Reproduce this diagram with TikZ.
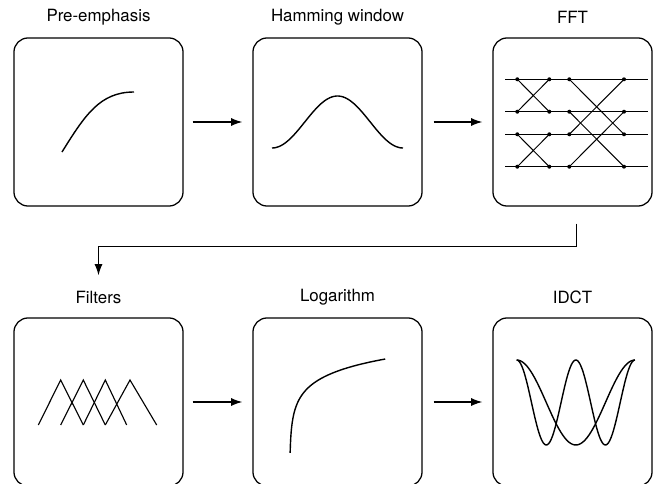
\documentclass[tikz,border=0pt]{standalone}
\usepackage{fontspec}
\setmainfont{TeX Gyre Heros}
\usetikzlibrary{arrows.meta}

\tikzset{
    stagebox/.style={draw, line width=0.9pt, rounded corners=0.35cm,
        minimum width=4.225cm, minimum height=4.2cm, inner sep=0pt},
    stagelabel/.style={font=\fontsize{12}{14}\selectfont, inner sep=0pt},
    flow/.style={line width=0.8pt, -{Latex[length=0.28cm, width=0.2cm]}},
    sketch/.style={line width=1pt, line join=round}
}

\begin{document}
\begin{tikzpicture}[x=0.025cm, y=0.025cm]
    \useasboundingbox (0,0) rectangle (653,483);

    % 1. Các khối xử lý (hàng trên và hàng dưới)
    \node[stagebox] (pre) at (98.5, 361) {};
    \node[stagebox] (ham) at (337.5, 361) {};
    \node[stagebox, minimum width=3.975cm] (fft) at (572.5, 361) {};
    \node[stagebox] (filt) at (98.5, 81) {};
    \node[stagebox] (logn) at (337.5, 81) {};
    \node[stagebox, minimum width=3.975cm] (idct) at (572.5, 81) {};

    % 2. Nhãn phía trên mỗi khối
    \node[stagelabel] (preLbl) at ([yshift=0.5cm]pre.north) {Pre-emphasis};
    \node[stagelabel] (hamLbl) at ([yshift=0.5cm]ham.north) {Hamming window};
    \node[stagelabel] (fftLbl) at ([yshift=0.5cm]fft.north) {FFT};
    \node[stagelabel] (filtLbl) at ([yshift=0.5cm]filt.north) {Filters};
    \node[stagelabel] (lognLbl) at ([yshift=0.5cm]logn.north) {Logarithm};
    \node[stagelabel] (idctLbl) at ([yshift=0.5cm]idct.north) {IDCT};

    % 3. Mũi tên nối các khối
    \draw[flow] ([xshift=0.225cm]pre.east) -- ([xshift=-0.25cm]ham.west);
    \draw[flow] ([xshift=0.275cm]ham.east) -- ([xshift=-0.25cm]fft.west);
    \draw[flow] ([xshift=0.1cm, yshift=-0.425cm]fft.south)
        |- ([yshift=1.775cm]filt.north) -- ([yshift=1.05cm]filt.north);
    \draw[flow] ([xshift=0.225cm]filt.east) -- ([xshift=-0.25cm]logn.west);
    \draw[flow] ([xshift=0.275cm]logn.east) -- ([xshift=-0.25cm]idct.west);

    % 4. Pre-emphasis: đường cong đi lên rồi bão hòa
    \begin{scope}[shift={(pre.center)}]
        \draw[sketch] (-36.5, -30) .. controls (-13.5, 7) and (1.5, 30) .. (35.5, 30);
    \end{scope}

    % 5. Hamming window: dạng chuông
    \begin{scope}[shift={(ham.center)}]
        \draw[sketch, smooth, samples=60, domain=-65.5:65.5]
            plot (\x, {-26 + 26*(1 + cos(180*\x/65.5))});
    \end{scope}

    % 6. FFT: sơ đồ cánh bướm
    \begin{scope}[shift={(fft.center)}, line width=0.7pt]
        \foreach \r in {42.7, 10.3, -12.3, -44.7}
            \draw (-67.5, \r) -- (75.5, \r);
        \draw (-55.2, 42.7) -- (-23.2, 10.3)  (-55.2, 10.3) -- (-23.2, 42.7);
        \draw (-55.2, -12.3) -- (-23.2, -44.7)  (-55.2, -44.7) -- (-23.2, -12.3);
        \draw (-3.2, 42.7) -- (51.5, -12.3)  (-3.2, 10.3) -- (51.5, -44.7);
        \draw (-3.2, -12.3) -- (51.5, 42.7)  (-3.2, -44.7) -- (51.5, 10.3);
        \foreach \c in {-55.2, -23.2, -3.2, 51.5}
            \foreach \r in {42.7, 10.3, -12.3, -44.7}
                \fill (\c, \r) circle (2);
    \end{scope}

    % 7. Filters: các bộ lọc tam giác chồng nhau
    \begin{scope}[shift={(filt.center)}, line width=0.8pt, line join=miter]
        \draw (-60.2, -23) -- (-37.8, 22) -- (-15.2, -23);
        \draw (-37.8, -23) -- (-15.2, 22) -- (6.8, -23);
        \draw (-15.2, -23) -- (6.8, 22) -- (28.2, -23);
        \draw (6.8, -23) -- (31.5, 22) -- (58.2, -23);
    \end{scope}

    % 8. Logarithm
    \begin{scope}[shift={(logn.center)}]
        \draw[sketch, smooth, samples=60, domain=-0.8:4.56, variable=\s]
            plot ({exp(\s) - 47.8}, {17.5*\s - 36.8});
    \end{scope}

    % 9. IDCT: hai đường cosin
    \begin{scope}[shift={(idct.center)}]
        \draw[sketch, smooth, samples=90, domain=0:1, variable=\t]
            plot ({-55.8 + 118.3*\t}, {-0.5 + 42.5*cos(720*\t)});
        \draw[sketch, smooth, samples=60, domain=0:1, variable=\t]
            plot ({-55.8 + 118.3*\t}, {-0.5 + 42.5*cos(360*\t)});
    \end{scope}

\end{tikzpicture}
\end{document}
